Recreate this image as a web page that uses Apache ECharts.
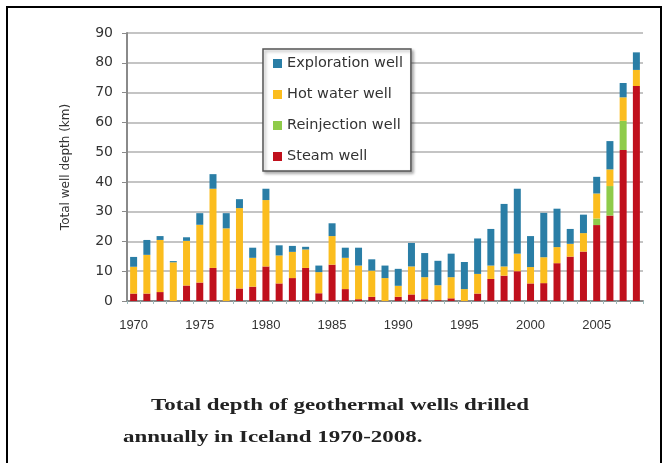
<!DOCTYPE html>
<html>
<head>
<meta charset="utf-8">
<script src="https://cdn.jsdelivr.net/npm/echarts@6/dist/echarts.min.js"></script>
<style>
html,body{margin:0;padding:0;background:#fff;}
#chart{width:668px;height:463px;}
</style>
</head>
<body>
<div id="chart"></div>
<script>
const years = ['1970','1971','1972','1973','1974','1975','1976','1977','1978','1979',
  '1980','1981','1982','1983','1984','1985','1986','1987','1988','1989',
  '1990','1991','1992','1993','1994','1995','1996','1997','1998','1999',
  '2000','2001','2002','2003','2004','2005','2006','2007','2008'];
const steamWell = [2.5,2.5,3,0,5.2,6.2,11.1,0,4.2,4.8,
  11.6,5.9,7.7,11.1,2.6,12.2,4,0.6,1.4,0,
  1.4,2.2,0.6,0.3,0.9,0,2.5,7.4,8.5,10,
  5.9,6,12.7,14.9,16.6,25.5,28.7,50.7,72.2];
const reinjectionWell = [0,0,0,0,0,0,0,0,0,0,
  0,0,0,0,0,0,0,0,0,0,
  0,0,0,0,0,0,0,0,0,0,
  0,0,0,0,0,2.2,9.9,9.8,0];
const hotWaterWell = [9,13,17.5,13,15,19.4,26.6,24.4,27,9.7,
  22.3,9.4,8.8,6.2,7.1,9.6,10.5,11.3,8.8,7.7,
  3.7,9.4,7.4,5,7.1,4,6.6,4.5,3.1,5.9,
  5.5,8.7,5.4,4.3,6.2,8.4,5.6,7.9,5.4];
const explorationWell = [3.3,5,1.3,0.4,1.2,3.9,4.9,5.1,3,3.4,
  3.8,3.4,2,0.9,2.2,4.3,3.4,6,3.8,4.2,
  5.7,7.9,8.1,8.2,7.9,9.1,11.9,12.3,21,21.8,
  10.4,14.9,12.9,5,6.2,5.6,9.5,4.8,5.9];
const yTicks = {min:0, max:90, interval:10};
const names = {steam:'Steam well', reinj:'Reinjection well', hot:'Hot water well', expl:'Exploration well'};
const captionLines = ['Total depth of geothermal wells drilled', 'annually in Iceland 1970-2008.'];

const colors = {steam:'#c0101c', reinj:'#8fcb4a', hot:'#fbbd1e', expl:'#2a7ea6'};
const chart = echarts.init(document.getElementById('chart'), null, {renderer:'canvas'});
function bar(name, data, color){
  return {name:name, type:'bar', stack:'total', data:data, barWidth:7,
    itemStyle:{color:color}, emphasis:{disabled:true}};
}
const captionFont = 'bold 17.5px "Liberation Serif", "Times New Roman", serif';
chart.setOption({
  animation:false,
  backgroundColor:'#fff',
  grid:{left:127, right:25, top:33, bottom:162, containLabel:false},
  legend:{
    data:[names.expl, names.hot, names.reinj, names.steam],
    orient:'vertical', left:263, top:49,
    itemWidth:9, itemHeight:9, itemGap:16,
    padding:[7,8,7,10],
    icon:'rect',
    backgroundColor:'#fff', borderColor:'#555', borderWidth:1.5,
    shadowColor:'rgba(0,0,0,0.3)', shadowBlur:3, shadowOffsetX:2, shadowOffsetY:2,
    textStyle:{fontFamily:'DejaVu Sans', fontSize:14.5, color:'#333', lineHeight:15}
  },
  xAxis:{
    type:'category', data:years,
    axisLine:{lineStyle:{color:'#8a8a8a', width:2}},
    axisTick:{show:true, interval:0, length:3, lineStyle:{color:'#9bb'}},
    axisLabel:{interval:4, margin:18, fontFamily:'Liberation Sans, Arial', fontSize:13, color:'#333'}
  },
  yAxis:{
    type:'value', min:yTicks.min, max:yTicks.max, interval:yTicks.interval,
    name:'Total well depth (km)', nameLocation:'middle', nameGap:55, nameRotate:90,
    nameTextStyle:{fontFamily:'DejaVu Sans', fontSize:12, color:'#333'},
    axisLine:{show:true, lineStyle:{color:'#8a8a8a', width:2}},
    axisTick:{show:true, length:5, lineStyle:{color:'#8a8a8a'}},
    axisLabel:{margin:14, fontFamily:'DejaVu Sans', fontSize:14, color:'#333'},
    splitLine:{lineStyle:{color:'#c4c4c4', width:2}}
  },
  series:[
    bar(names.steam, steamWell, colors.steam),
    bar(names.reinj, reinjectionWell, colors.reinj),
    bar(names.hot, hotWaterWell, colors.hot),
    bar(names.expl, explorationWell, colors.expl)
  ],
  graphic:[
    {type:'rect', shape:{x:7, y:7, width:654, height:470}, style:{fill:'none', stroke:'#000', lineWidth:2}, silent:true},
    {type:'text', x:151, y:396, scaleX:1.31, style:{text:captionLines[0], font:captionFont, fill:'#222', verticalAlign:'top'}},
    {type:'text', x:123, y:428, scaleX:1.31, style:{text:captionLines[1], font:captionFont, fill:'#222', verticalAlign:'top'}}
  ]
});
</script>
</body>
</html>
